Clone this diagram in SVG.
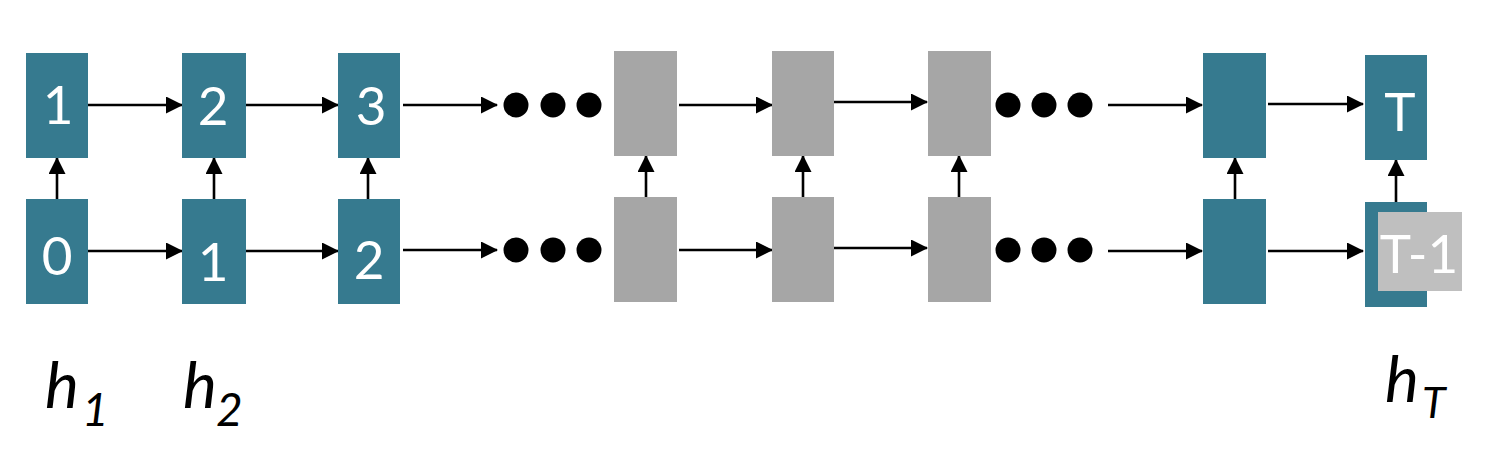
<svg xmlns="http://www.w3.org/2000/svg" width="1488" height="450" viewBox="0 0 1488 450">
<style>
.t{fill:#367A8F}
.g{fill:#A6A6A6}
.num{font-family:Lato,"Liberation Sans",sans-serif;fill:#fff;text-anchor:middle;font-size:53px}
.lbl{font-family:Lato,"Liberation Sans",sans-serif;font-style:italic;fill:#000}
.c line{stroke:#000;stroke-width:2.6;marker-end:url(#ah)}
.dot{fill:#000}
</style>
<defs>
<marker id="ah" markerUnits="userSpaceOnUse" markerWidth="18" markerHeight="18" refX="16" refY="8.5" orient="auto" viewBox="0 0 18 18">
<path d="M0,0 L17,8.5 L0,17 z" fill="#000"/>
</marker>
</defs>
<rect width="1488" height="450" fill="#fff"/>
<g id="connectors" class="c">
<line x1="88" y1="105" x2="182" y2="105"/>
<line x1="246" y1="105" x2="338" y2="105"/>
<line x1="403" y1="105" x2="497" y2="105"/>
<line x1="679" y1="105" x2="772" y2="105"/>
<line x1="832" y1="102" x2="927" y2="102"/>
<line x1="1108" y1="105" x2="1202" y2="105"/>
<line x1="1268" y1="104" x2="1363" y2="104"/>
<line x1="88" y1="251" x2="182" y2="251"/>
<line x1="246" y1="251" x2="338" y2="251"/>
<line x1="403" y1="250" x2="497" y2="250"/>
<line x1="679" y1="250" x2="772" y2="250"/>
<line x1="832" y1="248" x2="927" y2="248"/>
<line x1="1108" y1="251" x2="1202" y2="251"/>
<line x1="1268" y1="251" x2="1363" y2="251"/>
<line x1="57" y1="199" x2="57" y2="158"/>
<line x1="214" y1="199" x2="214" y2="158"/>
<line x1="368" y1="199" x2="368" y2="158"/>
<line x1="646" y1="197" x2="646" y2="156"/>
<line x1="803" y1="197" x2="803" y2="156"/>
<line x1="959" y1="197" x2="959" y2="156"/>
<line x1="1235" y1="199" x2="1235" y2="158"/>
<line x1="1396" y1="202" x2="1396" y2="160"/>
</g>
<g id="n-top1"><rect class="t" x="26" y="53" width="62" height="105"/><text class="num" x="58" y="124">1</text></g>
<g id="n-top2"><rect class="t" x="182" y="53" width="64" height="105"/><text class="num" x="213" y="125">2</text></g>
<g id="n-top3"><rect class="t" x="338" y="53" width="62" height="105"/><text class="num" x="371" y="125">3</text></g>
<g id="n-topg1"><rect class="g" x="614" y="51" width="63" height="105"/></g>
<g id="n-topg2"><rect class="g" x="772" y="51" width="62" height="105"/></g>
<g id="n-topg3"><rect class="g" x="928" y="51" width="63" height="105"/></g>
<g id="n-topd"><rect class="t" x="1203" y="53" width="63" height="105"/></g>
<g id="n-topT"><rect class="t" x="1365" y="55" width="62" height="105"/><text class="num" x="1400" y="131" font-size="56">T</text></g>
<g id="n-bot0"><rect class="t" x="26" y="199" width="62" height="105"/><text class="num" x="57" y="275">0</text></g>
<g id="n-bot1"><rect class="t" x="182" y="199" width="64" height="105"/><text class="num" x="213" y="281">1</text></g>
<g id="n-bot2"><rect class="t" x="338" y="199" width="62" height="105"/><text class="num" x="369" y="279">2</text></g>
<g id="n-botg1"><rect class="g" x="614" y="197" width="63" height="105"/></g>
<g id="n-botg2"><rect class="g" x="772" y="197" width="62" height="105"/></g>
<g id="n-botg3"><rect class="g" x="928" y="197" width="63" height="105"/></g>
<g id="n-botd"><rect class="t" x="1203" y="199" width="63" height="105"/></g>
<g id="n-botT1"><rect class="t" x="1365" y="202" width="62" height="105"/><rect x="1378" y="212" width="84" height="79" fill="#BFBFBF"/><text class="num" x="1419" y="273">T-1</text></g>
<g id="dots">
<ellipse class="dot" cx="516" cy="105" rx="12.5" ry="12.5"/>
<ellipse class="dot" cx="553" cy="105" rx="12.5" ry="12.5"/>
<ellipse class="dot" cx="589" cy="105" rx="12.5" ry="12.5"/>
<ellipse class="dot" cx="516" cy="250" rx="12.5" ry="12.5"/>
<ellipse class="dot" cx="553" cy="250" rx="12.5" ry="12.5"/>
<ellipse class="dot" cx="589" cy="250" rx="12.5" ry="12.5"/>
<ellipse class="dot" cx="1008" cy="105" rx="12.5" ry="12.5"/>
<ellipse class="dot" cx="1044" cy="105" rx="12.5" ry="12.5"/>
<ellipse class="dot" cx="1080" cy="105" rx="12.5" ry="12.5"/>
<ellipse class="dot" cx="1008" cy="250" rx="12.5" ry="12.5"/>
<ellipse class="dot" cx="1044" cy="250" rx="12.5" ry="12.5"/>
<ellipse class="dot" cx="1080" cy="250" rx="12.5" ry="12.5"/>
</g>
<g id="labels">
<text class="lbl" x="45" y="408" font-size="64">h</text><text class="lbl" x="82" y="426" font-size="46">1</text>
<text class="lbl" x="183" y="408" font-size="64">h</text><text class="lbl" x="216" y="426" font-size="46">2</text>
<text class="lbl" x="1385" y="402" font-size="64">h</text><text class="lbl" x="1422" y="418" font-size="43">T</text>
</g>
</svg>
